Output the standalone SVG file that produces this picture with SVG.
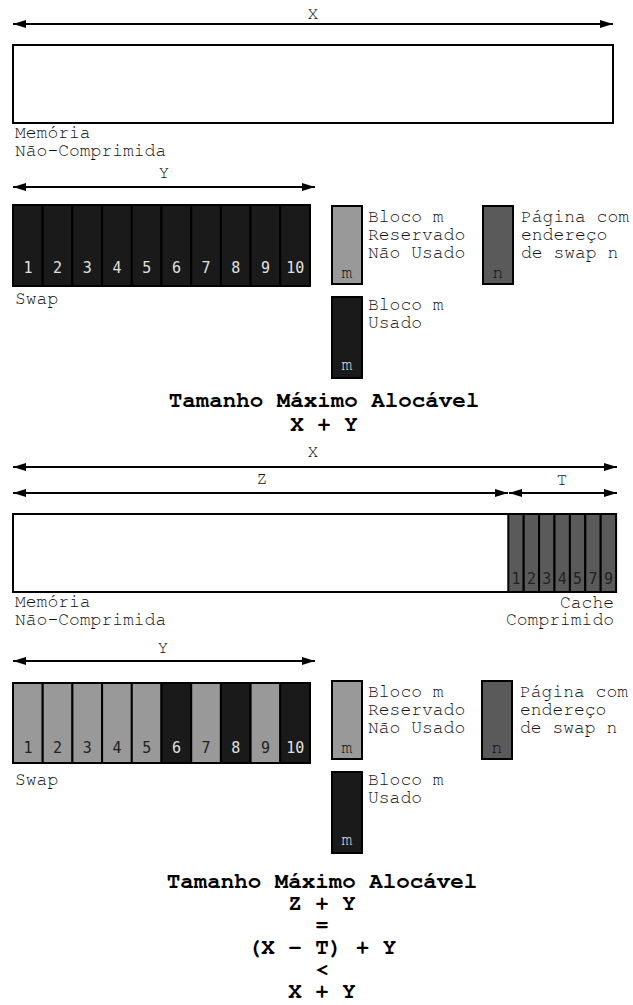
<svg xmlns="http://www.w3.org/2000/svg" width="633" height="1005" viewBox="0 0 633 1005">
<defs>
<marker id="ah" markerUnits="userSpaceOnUse" markerWidth="14" markerHeight="10" viewBox="0 0 14 10" refX="13" refY="5" orient="auto-start-reverse">
<path d="M0,1 L13,5 L0,9 Z" fill="#000"/>
</marker>
</defs>
<style>
text{font-family:"Nimbus Mono PS","Nimbus Mono L","FreeMono","Courier New","Liberation Mono",monospace;fill:#111}
.lbl{font-size:18px}
.num{font-size:18px;text-anchor:middle}
.dig{font-family:"DejaVu Sans Mono",monospace;font-size:15px;text-anchor:middle;fill:#222}
.mid{text-anchor:middle}
.end{text-anchor:end}
.ttl{font-size:22.5px;font-weight:bold;text-anchor:middle;fill:#000}
.arr{stroke:#000;stroke-width:2.2;fill:none;marker-start:url(#ah);marker-end:url(#ah)}
.mem{fill:#fff;stroke:#000;stroke-width:2}
.blk{stroke:#000;stroke-width:2}
.lg{fill:#999}
.dg{fill:#5a5a5a}
.bk{fill:#1a1a1a}
text.wt{fill:#e0e0e0}
</style>

<g id="connectors">
<line class="arr" x1="13" y1="24" x2="613" y2="24"/>
<line class="arr" x1="13" y1="187" x2="315" y2="187"/>
<line class="arr" x1="13" y1="467" x2="617" y2="467"/>
<line class="arr" x1="13" y1="493" x2="508" y2="493"/>
<line class="arr" x1="509" y1="493" x2="617" y2="493"/>
<line class="arr" x1="13" y1="661" x2="315" y2="661"/>
</g>

<g id="labels">
<text class="lbl mid" x="313" y="19">X</text>
<text class="lbl mid" x="164" y="178">Y</text>
<text class="lbl mid" x="313" y="457">X</text>
<text class="lbl mid" x="262" y="484">Z</text>
<text class="lbl mid" x="562" y="485">T</text>
<text class="lbl mid" x="163" y="653">Y</text>
</g>

<g id="mem1">
<rect class="mem" x="13" y="45" width="600" height="78"/>
<text class="lbl" x="15" y="138">Memória</text>
<text class="lbl" x="15" y="156">Não-Comprimida</text>
</g>

<g id="swap1">
<rect class="blk bk" x="13" y="205" width="29.7" height="81"/>
<rect class="blk bk" x="42.7" y="205" width="29.7" height="81"/>
<rect class="blk bk" x="72.4" y="205" width="29.7" height="81"/>
<rect class="blk bk" x="102.1" y="205" width="29.7" height="81"/>
<rect class="blk bk" x="131.8" y="205" width="29.7" height="81"/>
<rect class="blk bk" x="161.5" y="205" width="29.7" height="81"/>
<rect class="blk bk" x="191.2" y="205" width="29.7" height="81"/>
<rect class="blk bk" x="220.9" y="205" width="29.7" height="81"/>
<rect class="blk bk" x="250.6" y="205" width="29.7" height="81"/>
<rect class="blk bk" x="280.3" y="205" width="29.7" height="81"/>
<text class="dig wt" x="27.9" y="273">1</text>
<text class="dig wt" x="57.6" y="273">2</text>
<text class="dig wt" x="87.3" y="273">3</text>
<text class="dig wt" x="117" y="273">4</text>
<text class="dig wt" x="146.7" y="273">5</text>
<text class="dig wt" x="176.4" y="273">6</text>
<text class="dig wt" x="206.1" y="273">7</text>
<text class="dig wt" x="235.8" y="273">8</text>
<text class="dig wt" x="265.5" y="273">9</text>
<text class="dig wt" x="295.2" y="273">10</text>
<text class="lbl" x="15" y="304">Swap</text>
</g>

<g id="legend1-reserved">
<rect class="blk lg" x="332" y="206" width="30" height="78"/>
<text class="num" x="347" y="278">m</text>
<text class="lbl" x="368" y="222">Bloco m</text>
<text class="lbl" x="368" y="240">Reservado</text>
<text class="lbl" x="368" y="258">Não Usado</text>
</g>
<g id="legend1-page">
<rect class="blk dg" x="483" y="206" width="30" height="78"/>
<text class="num" x="498" y="278">n</text>
<text class="lbl" x="521" y="222">Página com</text>
<text class="lbl" x="521" y="240">endereço</text>
<text class="lbl" x="521" y="258">de swap n</text>
</g>
<g id="legend1-used">
<rect class="blk bk" x="332" y="297" width="30" height="81"/>
<text class="num wt" x="347" y="370">m</text>
<text class="lbl" x="368" y="310">Bloco m</text>
<text class="lbl" x="368" y="328">Usado</text>
</g>

<g id="title1">
<text class="ttl" x="324" y="407">Tamanho Máximo Alocável</text>
<text class="ttl" x="324" y="431">X + Y</text>
</g>

<g id="mem2">
<rect class="mem" x="13" y="514" width="603" height="78"/>
<text class="lbl" x="15" y="607">Memória</text>
<text class="lbl" x="15" y="625">Não-Comprimida</text>
</g>

<g id="cache">
<rect class="blk dg" x="508.3" y="514" width="15.4" height="78"/>
<rect class="blk dg" x="523.7" y="514" width="15.4" height="78"/>
<rect class="blk dg" x="539.1" y="514" width="15.4" height="78"/>
<rect class="blk dg" x="554.5" y="514" width="15.4" height="78"/>
<rect class="blk dg" x="569.9" y="514" width="15.4" height="78"/>
<rect class="blk dg" x="585.3" y="514" width="15.4" height="78"/>
<rect class="blk dg" x="600.7" y="514" width="15.4" height="78"/>
<text class="dig" x="516" y="584">1</text>
<text class="dig" x="531.4" y="584">2</text>
<text class="dig" x="546.8" y="584">3</text>
<text class="dig" x="562.2" y="584">4</text>
<text class="dig" x="577.6" y="584">5</text>
<text class="dig" x="593" y="584">7</text>
<text class="dig" x="608.4" y="584">9</text>
<text class="lbl end" x="614" y="608">Cache</text>
<text class="lbl end" x="614" y="625">Comprimido</text>
</g>

<g id="swap2">
<rect class="blk lg" x="13" y="683" width="29.7" height="80"/>
<rect class="blk lg" x="42.7" y="683" width="29.7" height="80"/>
<rect class="blk lg" x="72.4" y="683" width="29.7" height="80"/>
<rect class="blk lg" x="102.1" y="683" width="29.7" height="80"/>
<rect class="blk lg" x="131.8" y="683" width="29.7" height="80"/>
<rect class="blk bk" x="161.5" y="683" width="29.7" height="80"/>
<rect class="blk lg" x="191.2" y="683" width="29.7" height="80"/>
<rect class="blk bk" x="220.9" y="683" width="29.7" height="80"/>
<rect class="blk lg" x="250.6" y="683" width="29.7" height="80"/>
<rect class="blk bk" x="280.3" y="683" width="29.7" height="80"/>
<text class="dig" x="27.9" y="753">1</text>
<text class="dig" x="57.6" y="753">2</text>
<text class="dig" x="87.3" y="753">3</text>
<text class="dig" x="117" y="753">4</text>
<text class="dig" x="146.7" y="753">5</text>
<text class="dig wt" x="176.4" y="753">6</text>
<text class="dig" x="206.1" y="753">7</text>
<text class="dig wt" x="235.8" y="753">8</text>
<text class="dig" x="265.5" y="753">9</text>
<text class="dig wt" x="295.2" y="753">10</text>
<text class="lbl" x="15" y="785">Swap</text>
</g>

<g id="legend2-reserved">
<rect class="blk lg" x="332" y="681" width="30" height="78"/>
<text class="num" x="347" y="753">m</text>
<text class="lbl" x="368" y="697">Bloco m</text>
<text class="lbl" x="368" y="715">Reservado</text>
<text class="lbl" x="368" y="733">Não Usado</text>
</g>
<g id="legend2-page">
<rect class="blk dg" x="482" y="681" width="30" height="78"/>
<text class="num" x="497" y="753">n</text>
<text class="lbl" x="520" y="697">Página com</text>
<text class="lbl" x="520" y="715">endereço</text>
<text class="lbl" x="520" y="733">de swap n</text>
</g>
<g id="legend2-used">
<rect class="blk bk" x="332" y="772" width="30" height="81"/>
<text class="num wt" x="347" y="845">m</text>
<text class="lbl" x="368" y="785">Bloco m</text>
<text class="lbl" x="368" y="803">Usado</text>
</g>

<g id="title2">
<text class="ttl" x="322" y="888">Tamanho Máximo Alocável</text>
<text class="ttl" x="322" y="910">Z + Y</text>
<text class="ttl" x="322" y="932">=</text>
<text class="ttl" x="322" y="954">(X - T) + Y</text>
<text class="ttl" x="322" y="976">&lt;</text>
<text class="ttl" x="322" y="998">X + Y</text>
</g>
</svg>
